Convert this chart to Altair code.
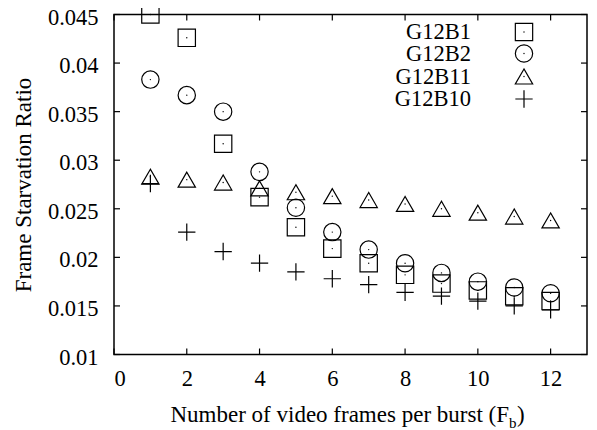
import altair as alt
import pandas as pd

# ---- data ----
fb = [1, 2, 3, 4, 5, 6, 7, 8, 9, 10, 11, 12]
g12b1 = [0.0450, 0.0426, 0.0317, 0.0262, 0.0231, 0.0209, 0.0194, 0.0182, 0.0173, 0.0166, 0.0160, 0.0155]
g12b2 = [0.0383, 0.0367, 0.0350, 0.0288, 0.0251, 0.0226, 0.0208, 0.0194, 0.0184, 0.0175, 0.0169, 0.0163]
g12b11 = [0.0283, 0.0280, 0.0277, 0.0271, 0.0267, 0.0263, 0.0259, 0.0255, 0.0250, 0.0246, 0.0242, 0.0238]
g12b10 = [0.0276, 0.0226, 0.0206, 0.0194, 0.0185, 0.0178, 0.0172, 0.0164, 0.0160, 0.0155, 0.0150, 0.0146]
series = ["G12B1", "G12B2", "G12B11", "G12B10"]
shapes = ["square", "circle", "triangle-up", "M-1,0H1M0,-1V1"]
x_ticks = [0, 2, 4, 6, 8, 10, 12]
y_ticks = [0.01, 0.015, 0.02, 0.025, 0.03, 0.035, 0.04, 0.045]

FONT = "Liberation Serif"
FS = 22.5
FT = 23
W, H = 473, 340

rows = []
for name, vals in zip(series, [g12b1, g12b2, g12b11, g12b10]):
    for x, v in zip(fb, vals):
        rows.append({"fb": x, "ratio": v, "series": name})
df = pd.DataFrame(rows)
dots = df[df["series"] != "G12B10"]

xs = alt.Scale(domain=[0, 13], nice=False)
ys = alt.Scale(domain=[0.01, 0.045], nice=False)
shape_scale = alt.Scale(domain=series, range=shapes)

base_x = alt.X("fb:Q", scale=xs,
               axis=alt.Axis(values=x_ticks, title=None, ticks=False, domain=False, grid=False,
                             labelFont=FONT, labelFontSize=FS, labelColor="black", labelPadding=13))
base_y = alt.Y("ratio:Q", scale=ys,
               axis=alt.Axis(values=y_ticks, format="~g", title="Frame Starvation Ratio",
                             ticks=False, domain=False, grid=False,
                             labelFont=FONT, labelFontSize=FS, labelColor="black", labelPadding=16,
                             labelOffset=2.5,
                             titleFont=FONT, titleFontSize=FT, titleFontWeight="normal", titleColor="black",
                             titleX=-91, titleY=H / 2, titleAngle=270, titleAlign="center",
                             titleBaseline="middle"))

points = alt.Chart(df).mark_point(filled=False, stroke="black", strokeWidth=1.2, size=300, opacity=1).encode(
    x=base_x, y=base_y,
    shape=alt.Shape("series:N", scale=shape_scale, legend=None),
)
centre = alt.Chart(dots).mark_circle(color="black", size=2, opacity=1).encode(
    x=alt.X("fb:Q", scale=xs), y=alt.Y("ratio:Q", scale=ys)
)

# inward ticks on all four sides
xt = pd.DataFrame({"t": x_ticks})
yt = pd.DataFrame({"t": y_ticks})
tick_style = dict(color="black", strokeWidth=1.2)
xb = alt.Chart(xt).mark_rule(**tick_style).encode(x=alt.X("t:Q", scale=xs), y=alt.value(H), y2=alt.value(H - 6))
xtop = alt.Chart(xt).mark_rule(**tick_style).encode(x=alt.X("t:Q", scale=xs), y=alt.value(0), y2=alt.value(6))
yl = alt.Chart(yt).mark_rule(**tick_style).encode(y=alt.Y("t:Q", scale=ys), x=alt.value(0), x2=alt.value(6))
yr = alt.Chart(yt).mark_rule(**tick_style).encode(y=alt.Y("t:Q", scale=ys), x=alt.value(W), x2=alt.value(W - 6))

# legend (labels right-aligned, symbols to the right)
leg_y = [17.5, 39, 62, 84.5]
leg = pd.DataFrame({"series": series, "ly": leg_y})
leg_text = alt.Chart(leg).mark_text(align="right", baseline="middle", font=FONT, fontSize=FS, color="black").encode(
    x=alt.value(357), y=alt.Y("ly:Q", scale=None), text="series:N"
)
leg_sym = alt.Chart(leg).mark_point(filled=False, stroke="black", strokeWidth=1.2, size=300, opacity=1).encode(
    x=alt.value(410), y=alt.Y("ly:Q", scale=None), shape=alt.Shape("series:N", scale=shape_scale, legend=None)
)
leg_dot = alt.Chart(leg[leg["series"] != "G12B10"]).mark_circle(color="black", size=2, opacity=1).encode(
    x=alt.value(410), y=alt.Y("ly:Q", scale=None)
)

# x-axis title with subscript
t_main = alt.Chart(pd.DataFrame({"s": ["Number of video frames per burst (F"]})).mark_text(
    align="right", baseline="alphabetic", font=FONT, fontSize=FT, color="black").encode(
    x=alt.value(395), y=alt.value(407), text="s:N")
t_sub = alt.Chart(pd.DataFrame({"s": ["b"]})).mark_text(
    align="left", baseline="alphabetic", font=FONT, fontSize=15, color="black").encode(
    x=alt.value(395), y=alt.value(413), text="s:N")
t_close = alt.Chart(pd.DataFrame({"s": [")"]})).mark_text(
    align="left", baseline="alphabetic", font=FONT, fontSize=FT, color="black").encode(
    x=alt.value(403), y=alt.value(407), text="s:N")

chart = alt.layer(points, centre, xb, xtop, yl, yr, leg_text, leg_sym, leg_dot, t_main, t_sub, t_close).properties(
    width=W, height=H,
    autosize=alt.AutoSizeParams(type="none"),
    padding={"left": 106, "top": 6.5, "right": 2, "bottom": 75},
    background="white",
).configure_view(stroke="black", strokeWidth=1.5)

chart.save("out.html", embed_options={"renderer": "svg", "actions": False})
